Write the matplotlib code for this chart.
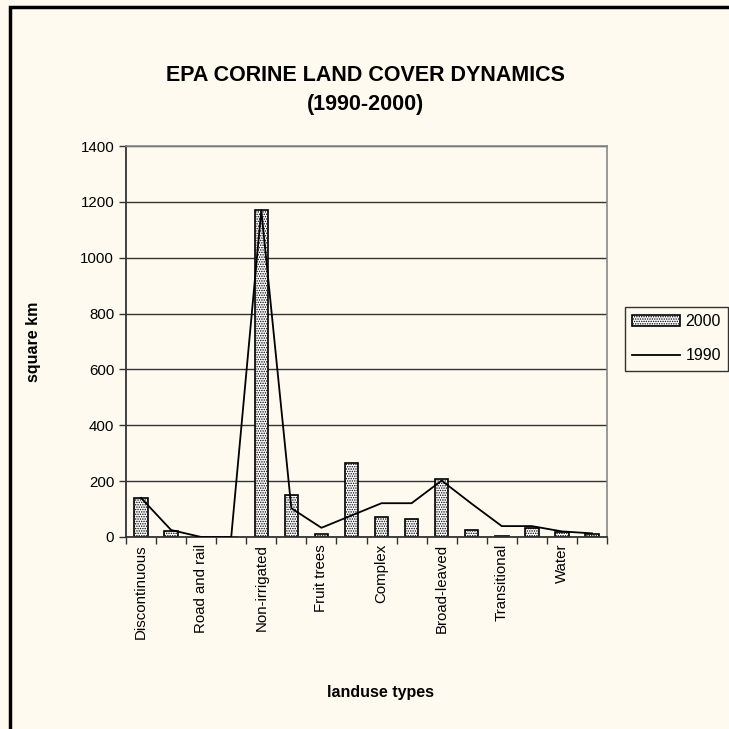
import matplotlib.pyplot as plt
import numpy as np
from matplotlib.patches import Rectangle

plt.rcParams['font.family'] = ['Liberation Sans', 'DejaVu Sans']
plt.rcParams['hatch.linewidth'] = 0.7

# 16 land use classes, only every second one gets a label
labels = ['Discontinuous', '', 'Road and rail', '', 'Non-irrigated', '',
          'Fruit trees', '', 'Complex', '', 'Broad-leaved', '',
          'Transitional', '', 'Water', '']
y2000 = [140, 20, 0, 0, 1172, 152, 12, 265, 70, 63, 208, 25, 5, 33, 19, 11]
y1990 = [140, 25, 0, 0, 1170, 103, 33, 77, 121, 121, 202, 119, 39, 39, 20, 13]

bg = '#fffaf0'
fig = plt.figure(figsize=(7.29, 7.29), dpi=100, facecolor=bg)
ax = fig.add_axes([126/729, 1-537/729, (607-126)/729, (537-146)/729])
ax.set_facecolor(bg)

x = np.arange(len(labels))
bars = ax.bar(x, y2000, width=0.45, color='white', edgecolor='black', hatch='.......',
              linewidth=1.2, label='2000', zorder=2)
line, = ax.plot(x, y1990, color='black', linewidth=1.3, label='1990', zorder=3)

ax.set_xlim(-0.5, len(labels) - 0.5)
ax.set_ylim(0, 1400)
ax.set_yticks(range(0, 1401, 200))
ax.yaxis.grid(True, color='#333333', linewidth=1.0, zorder=0)
ax.set_axisbelow(True)

# tick marks between categories, labels at the centres
ax.set_xticks(np.arange(-0.5, len(labels), 1))
ax.set_xticklabels([])
ax.set_xticks(x, minor=True)
ax.set_xticklabels(labels, minor=True, rotation=90, fontsize=10.8)
ax.tick_params(axis='x', which='major', length=5, width=1, color='#333333')
ax.tick_params(axis='x', which='minor', length=0, pad=5)
ax.tick_params(axis='y', length=5, width=1, color='#333333', labelsize=10.8)

for s in ['left', 'bottom']:
    ax.spines[s].set_color('#333333')
    ax.spines[s].set_linewidth(1.3)
for s in ['top', 'right']:
    ax.spines[s].set_color('#888888')
    ax.spines[s].set_linewidth(1.2)

ax.set_ylabel('square km', fontsize=11.5, fontweight='bold', labelpad=28)
fig.text(381/729, 1-692/729, 'landuse types', fontsize=11.5, fontweight='bold',
         ha='center', va='center')
fig.text(365/729, 1-90/729, 'EPA CORINE LAND COVER DYNAMICS\n(1990-2000)',
         fontsize=15.5, fontweight='bold', ha='center', va='center',
         linespacing=1.45)

leg = fig.legend([bars, line], ['2000', '1990'], loc='upper left',
                 bbox_to_anchor=(625/729, 1-307/729), borderaxespad=0,
                 fontsize=11.5, frameon=True, fancybox=False, edgecolor='black',
                 facecolor=bg, handlelength=3.0, handleheight=0.65,
                 borderpad=0.45, labelspacing=1.2, handletextpad=0.35)
leg.get_frame().set_linewidth(1.0)

# outer chart border (only left and top visible in the crop)
fig.patches.append(Rectangle((10/729, -0.1), 1.2, 1-7/729+0.1,
                             transform=fig.transFigure, fill=False,
                             edgecolor='black', linewidth=2.5))

plt.savefig('out.png', dpi=100, facecolor=bg)
